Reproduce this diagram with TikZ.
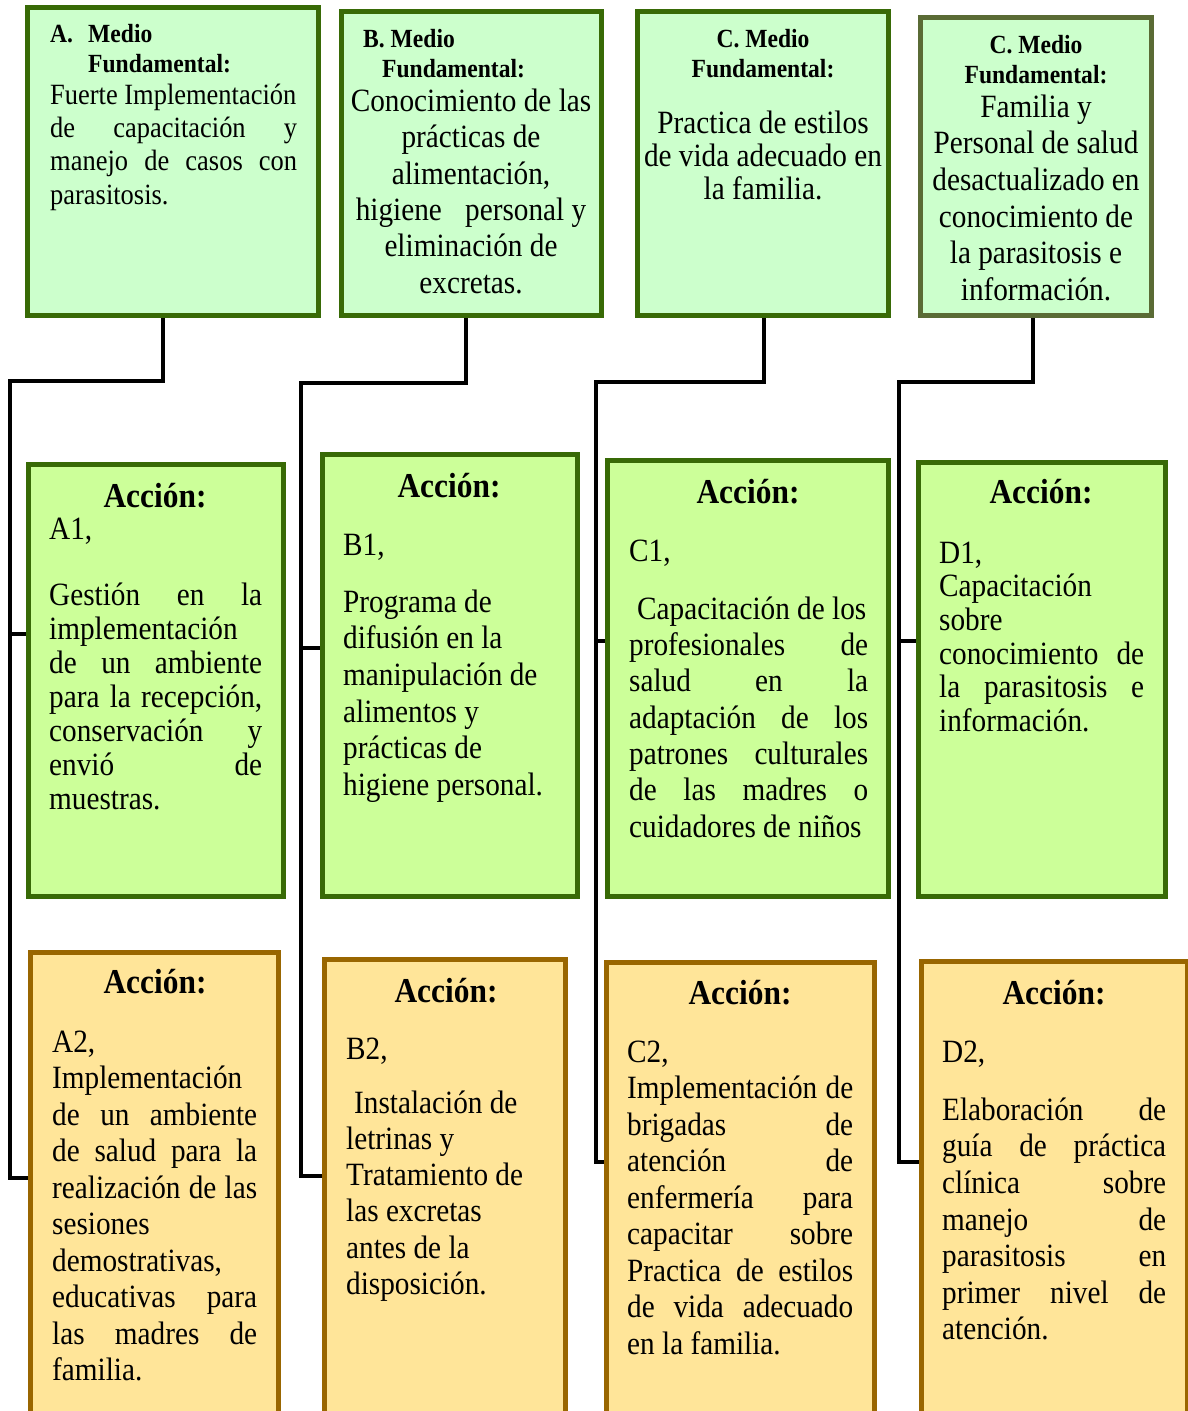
\documentclass[tikz,border=0pt]{standalone}
\usepackage{fontspec}
\setmainfont{Liberation Serif}[FakeStretch=0.9]
\usetikzlibrary{backgrounds}
\newcommand\tp{\rule{0pt}{0.75em}}
\newcommand\jline[2]{\makebox[#1pt][s]{#2}}
\definecolor{topfill}{HTML}{CCFFCC}
\definecolor{midfill}{HTML}{CCFF99}
\definecolor{botfill}{HTML}{FFE599}
\definecolor{gborder}{HTML}{386A06}
\definecolor{oborder}{HTML}{5A6B35}
\definecolor{bborder}{HTML}{996600}
\begin{document}
\begin{tikzpicture}[x=1pt,y=-1pt,
  box/.style={draw, line width=5pt, anchor=north west, inner sep=0pt, outer sep=0pt},
  topbox/.style={box, fill=topfill, draw=gborder},
  midbox/.style={box, fill=midfill, draw=gborder},
  botbox/.style={box, fill=botfill, draw=bborder},
  conn/.style={draw=black, line width=3.5pt},
  txt/.style={inner sep=0pt, anchor=north west, align=left, font=\fontsize{32.5}{36.4}\selectfont},
  ctxt/.style={txt, anchor=north, align=center},
  hdr/.style={txt, font=\bfseries\fontsize{26.2}{30}\selectfont},
  chdr/.style={ctxt, font=\bfseries\fontsize{26.2}{30}\selectfont},
  acc/.style={inner sep=0pt, anchor=north, font=\bfseries\fontsize{34.9}{40}\selectfont},
]
\useasboundingbox (0,0) rectangle (1188,1411);
\clip (0,0) rectangle (1188,1411);

% ---------- boxes ----------
\node[topbox, minimum width=291pt, minimum height=308pt] (topA) at (27.5,7.5) {};
\node[topbox, minimum width=260pt, minimum height=304pt] (topB) at (341.5,11.5) {};
\node[topbox, minimum width=251pt, minimum height=304pt] (topC) at (637.5,11.5) {};
\node[topbox, draw=oborder, minimum width=231pt, minimum height=298pt] (topD) at (920.5,17.5) {};

\node[midbox, minimum width=255pt, minimum height=432pt] (actA1) at (28.5,464.5) {};
\node[midbox, minimum width=255pt, minimum height=442pt] (actB1) at (322.5,454.5) {};
\node[midbox, minimum width=281pt, minimum height=436pt] (actC1) at (607.5,460.5) {};
\node[midbox, minimum width=247pt, minimum height=434pt] (actD1) at (918.5,462.5) {};

\node[botbox, minimum width=248pt, minimum height=500pt] (actA2) at (30.5,952.5) {};
\node[botbox, minimum width=241pt, minimum height=500pt] (actB2) at (324.5,959.5) {};
\node[botbox, minimum width=268pt, minimum height=500pt] (actC2) at (606.5,962.5) {};
\node[botbox, minimum width=266pt, minimum height=500pt] (actD2) at (921.5,961.5) {};

% ---------- connectors ----------
\coordinate (a1) at (163,381); \coordinate (a2) at (10,381);
\coordinate (a3) at (10,1178); \coordinate (a4) at (10,634);
\coordinate (b1) at (466,383); \coordinate (b2) at (301,383);
\coordinate (b3) at (301,1176); \coordinate (b4) at (301,648);
\coordinate (c1) at (764,382); \coordinate (c2) at (596,382);
\coordinate (c3) at (596,1162); \coordinate (c4) at (596,641);
\coordinate (d1) at (1033,382); \coordinate (d2) at (899,382);
\coordinate (d3) at (899,1162); \coordinate (d4) at (899,641);
\begin{scope}[on background layer]
\draw[conn] (topA.south -| a1) -- (a1) -- (a2) -- (a3) -- (actA2.west |- a3);
\draw[conn] (a4) -- (actA1.west |- a4);
\draw[conn] (topB.south -| b1) -- (b1) -- (b2) -- (b3) -- (actB2.west |- b3);
\draw[conn] (b4) -- (actB1.west |- b4);
\draw[conn] (topC.south -| c1) -- (c1) -- (c2) -- (c3) -- (actC2.west |- c3);
\draw[conn] (c4) -- (actC1.west |- c4);
\draw[conn] (topD.south -| d1) -- (d1) -- (d2) -- (d3) -- (actD2.west |- d3);
\draw[conn] (d4) -- (actD1.west |- d4);
\end{scope}

% ---------- top texts ----------
\node[hdr] (tAh) at (50,22.3) {\tp\makebox[38pt][l]{A.}Medio\\\hspace*{38pt}Fundamental:};
\node[txt, font=\fontsize{29.4}{33.3}\selectfont] (tAb) at (50,82) {\tp Fuerte Implementación\\\jline{247}{de capacitación y}\\\jline{247}{manejo de casos con}\\parasitosis.};

\node[hdr] (tBh) at (363,27.3) {\tp B. Medio\\\hspace*{19pt}Fundamental:};
\node[ctxt] (tBb) at (471,86.7) {\tp Conocimiento de las\\prácticas de\\alimentación,\\higiene\hspace*{16pt} personal y\\eliminación de\\excretas.};

\node[chdr] (tCh) at (763,27.3) {\tp C. Medio\\Fundamental:};
\node[ctxt, font=\fontsize{32.5}{33}\selectfont] (tCb) at (763,108.7) {\tp Practica de estilos\\de vida adecuado en\\la familia.};

\node[chdr] (tDh) at (1036,33.3) {\tp C. Medio\\Fundamental:};
\node[ctxt, font=\fontsize{32.5}{36.6}\selectfont] (tDb) at (1036,92.7) {\tp Familia y\\Personal de salud\\desactualizado en\\conocimiento de\\la parasitosis e\\información.};

% ---------- middle row ----------
\node[acc] (hA1) at (155,480.7) {\tp Acción:};
\node[txt] (lA1) at (49,514.7) {\tp A1,};
\node[txt, font=\fontsize{32.5}{34}\selectfont] (bA1) at (49,580.7) {\tp\jline{213}{Gestión en la}\\implementación\\\jline{213}{de un ambiente}\\\jline{213}{para la recepción,}\\\jline{213}{conservación y}\\\jline{213}{envió de}\\muestras.};

\node[acc] (hB1) at (449,470.7) {\tp Acción:};
\node[txt] (lB1) at (343,530.7) {\tp B1,};
\node[txt, font=\fontsize{32.5}{36.6}\selectfont] (bB1) at (343,587.7) {\tp Programa de\\difusión en la\\manipulación de\\alimentos y\\prácticas de\\higiene personal.};

\node[acc] (hC1) at (748,476.7) {\tp Acción:};
\node[txt] (lC1) at (629,536.7) {\tp C1,};
\node[txt, font=\fontsize{32.5}{36.3}\selectfont] (bC1) at (629,594.7) {\tp\hspace*{8pt}Capacitación de los\\\jline{239}{profesionales de}\\\jline{239}{salud en la}\\\jline{239}{adaptación de los}\\\jline{239}{patrones culturales}\\\jline{239}{de las madres o}\\cuidadores de niños};

\node[acc] (hD1) at (1041,476.7) {\tp Acción:};
\node[txt, font=\fontsize{32.5}{33.6}\selectfont] (bD1) at (939,538.7) {\tp D1,\\Capacitación\\sobre\\\jline{205}{conocimiento de}\\\jline{205}{la parasitosis e}\\información.};

% ---------- bottom row ----------
\node[acc] (hA2) at (155,966.7) {\tp Acción:};
\node[txt, font=\fontsize{32.5}{36.5}\selectfont] (bA2) at (52,1027.7) {\tp A2,\\Implementación\\\jline{205}{de un ambiente}\\\jline{205}{de salud para la}\\\jline{205}{realización de las}\\sesiones\\demostrativas,\\\jline{205}{educativas para}\\\jline{205}{las madres de}\\familia.};

\node[acc] (hB2) at (446,975.7) {\tp Acción:};
\node[txt] (lB2) at (346,1034.7) {\tp B2,};
\node[txt, font=\fontsize{32.5}{36.2}\selectfont] (bB2) at (346,1088.7) {\tp\hspace*{8pt}Instalación de\\letrinas y\\Tratamiento de\\las excretas\\antes de la\\disposición.};

\node[acc] (hC2) at (740,977.7) {\tp Acción:};
\node[txt, font=\fontsize{32.5}{36.5}\selectfont] (bC2) at (627,1037.7) {\tp C2,\\\jline{226}{Implementación de}\\\jline{226}{brigadas de}\\\jline{226}{atención de}\\\jline{226}{enfermería para}\\\jline{226}{capacitar sobre}\\\jline{226}{Practica de estilos}\\\jline{226}{de vida adecuado}\\en la familia.};

\node[acc] (hD2) at (1054,977.7) {\tp Acción:};
\node[txt] (lD2) at (942,1037.7) {\tp D2,};
\node[txt, font=\fontsize{32.5}{36.6}\selectfont] (bD2) at (942,1095.7) {\tp\jline{224}{Elaboración de}\\\jline{224}{guía de práctica}\\\jline{224}{clínica sobre}\\\jline{224}{manejo de}\\\jline{224}{parasitosis en}\\\jline{224}{primer nivel de}\\atención.};
\end{tikzpicture}
\end{document}
